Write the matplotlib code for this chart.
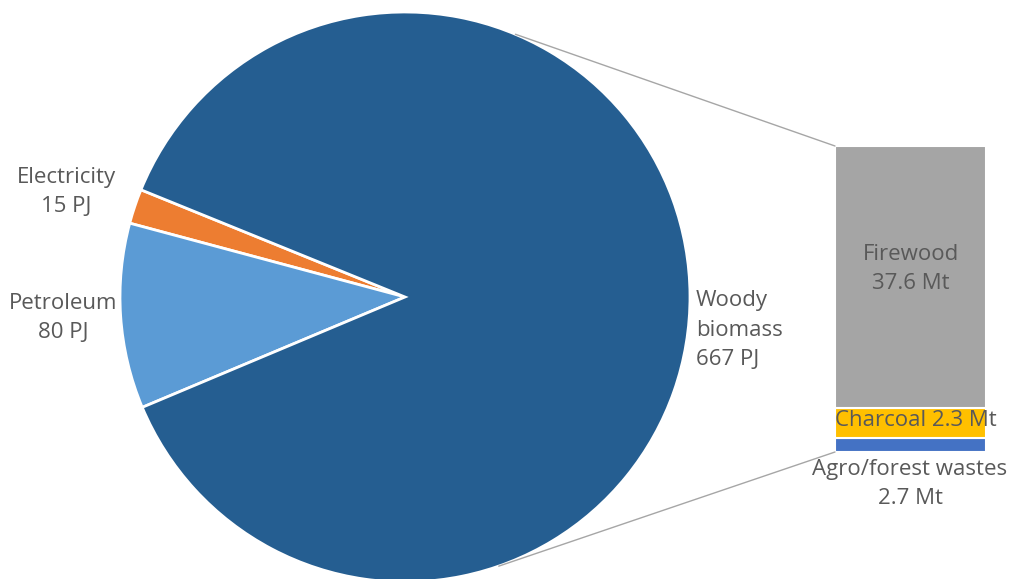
import matplotlib.pyplot as plt
from matplotlib.patches import ConnectionPatch
import numpy as np

# pie: energy use (PJ)
pie_labels = ['Electricity', 'Petroleum', 'Woody\nbiomass']
pie_values = [15, 80, 667]
pie_colors = ['#ed7d31', '#5b9bd5', '#255e91']

# bar: woody biomass breakdown (energy share in PJ, labels in Mt)
bar_labels = ['Agro/forest wastes', 'Charcoal', 'Firewood']
bar_energy = [31, 64, 572]
bar_mass = [2.7, 2.3, 37.6]
bar_colors = ['#4472c4', '#ffc000', '#a5a5a5']

W, H = 1014, 579
txt = '#595959'
plt.rcParams['font.family'] = ['Open Sans', 'DejaVu Sans']

fig = plt.figure(figsize=(W / 100, H / 100), dpi=100)

def frac(x, y):
    return x / W, 1 - y / H

# pie axes
cx, cy, r = 405, 297, 285
ax = fig.add_axes([(cx - r) / W, (H - cy - r) / H, 2 * r / W, 2 * r / H])
start = 157.9
wedges, _ = ax.pie(pie_values, colors=pie_colors, startangle=start, counterclock=True,
                   wedgeprops=dict(edgecolor='white', linewidth=2))
ax.set_xlim(-1, 1)
ax.set_ylim(-1, 1)

# bar axes
bx0, bx1, by0, by1 = 835, 986, 146, 452
bax = fig.add_axes([bx0 / W, (H - by1) / H, (bx1 - bx0) / W, (by1 - by0) / H])
bottom = 0
for e, c in zip(bar_energy, bar_colors):
    bax.bar(0, e, bottom=bottom, width=1, color=c, edgecolor='white', linewidth=1.5)
    bottom += e
bax.set_xlim(-0.5, 0.5)
bax.set_ylim(0, sum(bar_energy))
bax.axis('off')

# connector lines
for ang, yb in [(67.2, sum(bar_energy)), (-70.8, 0)]:
    a = np.deg2rad(ang)
    con = ConnectionPatch(xyA=(np.cos(a), np.sin(a)), coordsA=ax.transData,
                          xyB=(-0.5, yb), coordsB=bax.transData,
                          color='#a6a6a6', lw=1)
    fig.add_artist(con)

# pie labels
fs = 16
ls = 1.55
fig.text(*frac(66, 192), f'{pie_labels[0]}\n{pie_values[0]} PJ', ha='center', va='center',
         fontsize=fs, color=txt, linespacing=ls)
fig.text(*frac(63, 318), f'{pie_labels[1]}\n{pie_values[1]} PJ', ha='center', va='center',
         fontsize=fs, color=txt, linespacing=ls)
fig.text(*frac(696, 330), f'{pie_labels[2]}\n{pie_values[2]} PJ', ha='left', va='center',
         fontsize=fs, color=txt, linespacing=ls)

# bar labels
fig.text(*frac(911, 269), f'{bar_labels[2]}\n{bar_mass[2]} Mt', ha='center', va='center',
         fontsize=fs, color=txt, linespacing=ls)
fig.text(*frac(835, 420), f'{bar_labels[1]} {bar_mass[1]} Mt', ha='left', va='center',
         fontsize=fs, color=txt)
fig.text(*frac(910, 484), f'{bar_labels[0]}\n{bar_mass[0]} Mt', ha='center', va='center',
         fontsize=fs, color=txt, linespacing=ls)

plt.savefig('out.png', dpi=100)
